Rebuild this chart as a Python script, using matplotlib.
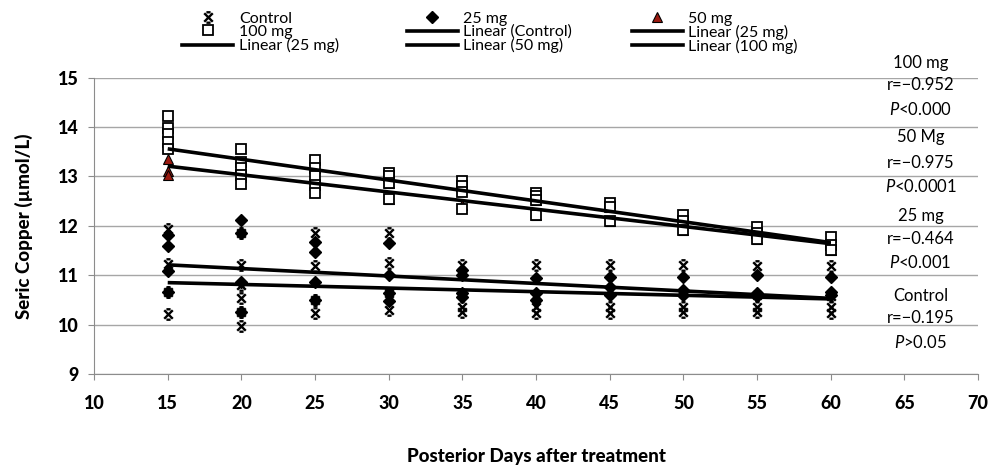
import numpy as np
import matplotlib
matplotlib.use('Agg')
import matplotlib.pyplot as plt
from matplotlib.path import Path
from matplotlib.lines import Line2D

plt.rcParams['font.family'] = ['Lato', 'DejaVu Sans']
plt.rcParams['mathtext.fontset'] = 'custom'
plt.rcParams['mathtext.rm'] = 'Lato'
plt.rcParams['mathtext.it'] = 'Lato:italic'

# data
days = [15, 20, 25, 30, 35, 40, 45, 50, 55, 60]

control = [[11.93, 11.22, 10.67, 10.21],
           [11.86, 11.2, 10.8, 10.54, 10.26, 9.98],
           [11.86, 11.19, 10.5, 10.24],
           [11.85, 11.24, 10.64, 10.3],
           [11.2, 10.62, 10.36, 10.26],
           [11.2, 10.6, 10.36, 10.24],
           [11.2, 10.7, 10.36, 10.23],
           [11.2, 10.64, 10.36, 10.26],
           [11.19, 10.6, 10.36, 10.26],
           [11.19, 10.57, 10.36, 10.24]]

mg25 = [[11.82, 11.59, 11.09, 10.67],
        [12.12, 11.86, 10.87, 10.26],
        [11.68, 11.48, 10.87, 10.5],
        [11.66, 11.0, 10.64, 10.47],
        [11.1, 11.0, 10.64, 10.55],
        [10.95, 10.64, 10.5],
        [10.96, 10.77, 10.6],
        [10.96, 10.7, 10.6],
        [11.0, 10.65, 10.58],
        [10.97, 10.67, 10.6]]

mg50 = [[13.35, 13.11, 13.03],
        [12.98, 13.03],
        [12.83],
        [12.86, 12.54],
        [12.42],
        [12.52, 12.22],
        [12.39, 12.09],
        [12.09, 11.92],
        [11.85, 11.73],
        [11.61, 11.51]]

mg100 = [[14.23, 13.99, 13.87, 13.69, 13.56],
         [13.55, 13.3, 13.17, 13.03, 12.84],
         [13.33, 13.17, 13.01, 12.83, 12.67],
         [13.08, 13.0, 12.86, 12.54],
         [12.9, 12.8, 12.69, 12.34],
         [12.67, 12.6, 12.52, 12.22],
         [12.47, 12.39, 12.09],
         [12.22, 12.09, 11.92],
         [11.98, 11.85, 11.73],
         [11.78, 11.61, 11.51]]

# linear trend lines (slope, intercept)
trend_names = ['Control', '25 mg', '50 mg', '100 mg']
trend_slope = [-0.00733, -0.0151, -0.0349, -0.0422]
trend_icept = [10.96, 11.437, 13.733, 14.193]

stats_text = ['100 mg', 'r=\u22120.952', '$P$<0.000',
              '50 Mg', 'r=\u22120.975', '$P$<0.0001',
              '25 mg', 'r=\u22120.464', '$P$<0.001',
              'Control', 'r=\u22120.195', '$P$>0.05']
stats_y = [15.3, 14.85, 14.35, 13.8, 13.27, 12.79,
           12.2, 11.73, 11.25, 10.58, 10.13, 9.63]

# X with short bars above and below (Excel style star)
star = Path([(-0.45, -0.45), (0.45, 0.45), (-0.45, 0.45), (0.45, -0.45),
             (-0.22, 0.55), (0.22, 0.55), (-0.22, -0.55), (0.22, -0.55)],
            [Path.MOVETO, Path.LINETO] * 4)


def flat(groups):
    xs, ys = [], []
    for d, vals in zip(days, groups):
        xs += [d] * len(vals)
        ys += vals
    return xs, ys


fig = plt.figure(figsize=(9.9, 4.68), dpi=100)
ax = fig.add_axes([0.095, 0.2009, 0.893, 0.633])

x, y = flat(control)
ax.plot(x, y, ls='none', marker=star, ms=7.5, mec='black', mew=1.7, zorder=3)
x, y = flat(mg25)
ax.plot(x, y, ls='none', marker='D', ms=5.8, mfc='black', mec='black', zorder=3)
x, y = flat(mg50)
ax.plot(x, y, ls='none', marker='^', ms=7, mfc='#9b1a10', mec='black', mew=0.8, zorder=3)
x, y = flat(mg100)
ax.plot(x, y, ls='none', marker='s', ms=7.2, mfc='white', mec='black', mew=1.3, zorder=3)

xs = np.array([days[0], days[-1]])
for s, b in zip(trend_slope, trend_icept):
    ax.plot(xs, s * xs + b, color='black', lw=2.6, zorder=4, solid_capstyle='butt')

ax.set_xlim(10, 70)
ax.set_ylim(9, 15)
ax.set_xticks(range(10, 71, 5))
ax.set_yticks(range(9, 16))
ax.yaxis.grid(True, color='#a6a6a6', lw=1.0)
ax.set_axisbelow(True)
for side in ['top', 'right']:
    ax.spines[side].set_visible(False)
for side in ['left', 'bottom']:
    ax.spines[side].set_color('#8c8c8c')
ax.tick_params(axis='both', direction='out', length=4, color='#8c8c8c', labelsize=13)
ax.tick_params(axis='x', pad=11)
ax.tick_params(axis='y', pad=7)
for lab in ax.get_xticklabels() + ax.get_yticklabels():
    lab.set_fontweight('black')

ax.set_xlabel('Posterior Days after treatment', fontsize=13.5, fontweight='black', labelpad=26)
ax.set_ylabel('Seric Copper (\u00b5mol/L)', fontsize=13.5, fontweight='black', labelpad=18)

for t, yy in zip(stats_text, stats_y):
    ax.text(66.1, yy, t, ha='center', va='center', fontsize=12, clip_on=False)

# legend, three columns placed by hand
def hmark(**kw):
    return Line2D([], [], ls='none', color='black', **kw)

def hline():
    return Line2D([], [], color='black', lw=2.6)

cols = [
    ([hmark(marker=star, ms=7.5, mew=1.7), hmark(marker='s', ms=7.2, mfc='white', mew=1.3), hline()],
     ['Control', '100 mg', 'Linear (25 mg)'], 0.171),
    ([hmark(marker='D', ms=5.8), hline(), hline()],
     ['25 mg', 'Linear (Control)', 'Linear (50 mg)'], 0.398),
    ([hmark(marker='^', ms=7, mfc='#9b1a10', mew=0.8), hline(), hline()],
     ['50 mg', 'Linear (25 mg)', 'Linear (100 mg)'], 0.625),
]
for handles, labels, x0 in cols:
    fig.legend(handles, labels, loc='upper left', bbox_to_anchor=(x0, 1.003),
               frameon=False, fontsize=11.5, handlelength=3.2, handletextpad=0.35,
               labelspacing=-0.05, borderpad=0.3)

fig.savefig('out.png', dpi=100)
